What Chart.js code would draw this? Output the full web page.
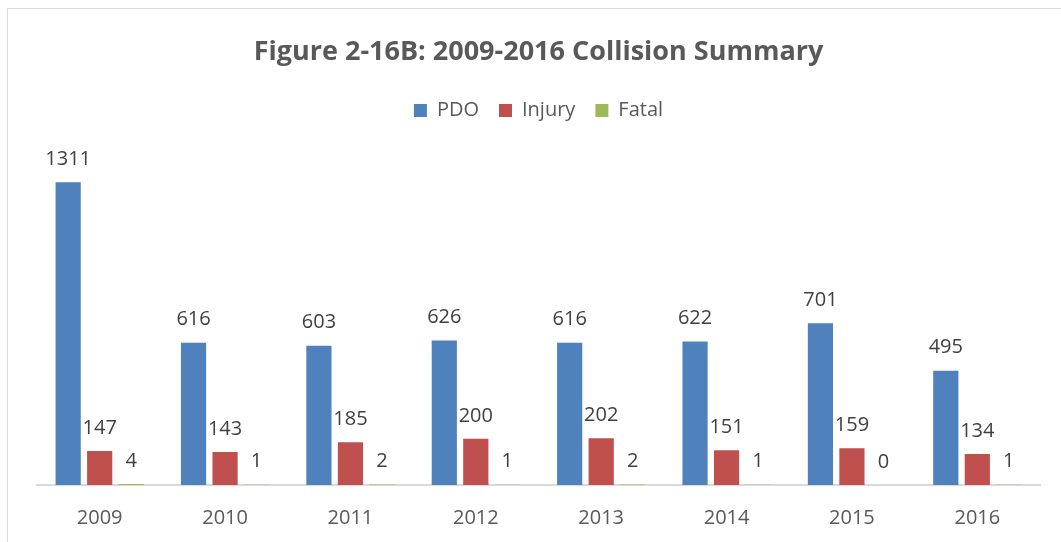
<!DOCTYPE html>
<html>
<head>
<meta charset="utf-8">
<script src="https://cdn.jsdelivr.net/npm/chart.js@4"></script>
<style>
    body { margin: 0; background: #fff; overflow: hidden; }
    #frame {
        position: absolute; left: 7px; top: 8px;
        width: 1100px; height: 600px;
        border: 1px solid #d9d9d9;
    }
    #wrap { position: absolute; left: 0; top: 0; width: 1061px; height: 543px; }
</style>
</head>
<body>
<div id="frame"></div>
<div id="wrap"><canvas id="collisionChart"></canvas></div>
<script>
// Collision counts by year
const years = ['2009', '2010', '2011', '2012', '2013', '2014', '2015', '2016'];
const pdo = [1311, 616, 603, 626, 616, 622, 701, 495];
const injury = [147, 143, 185, 200, 202, 151, 159, 134];
const fatal = [4, 1, 2, 1, 2, 1, 0, 1];

const FONT = "'Open Sans', sans-serif";

// Value labels drawn above each bar
const barLabels = {
    id: 'barLabels',
    afterDatasetsDraw(chart) {
        const ctx = chart.ctx;
        ctx.save();
        ctx.font = '20px ' + FONT;
        ctx.fillStyle = '#404040';
        ctx.textAlign = 'center';
        ctx.textBaseline = 'middle';
        chart.data.datasets.forEach((ds, i) => {
            chart.getDatasetMeta(i).data.forEach((bar, j) => {
                ctx.fillText(String(ds.data[j]), bar.x, bar.y - 23);
            });
        });
        ctx.restore();
    }
};

const ctx = document.getElementById('collisionChart').getContext('2d');

new Chart(ctx, {
    type: 'bar',
    data: {
        labels: years,
        datasets: [
            { label: 'PDO', data: pdo, backgroundColor: '#4f81bd' },
            { label: 'Injury', data: injury, backgroundColor: '#c0504d' },
            { label: 'Fatal', data: fatal, backgroundColor: '#9bbb59' }
        ]
    },
    options: {
        responsive: true,
        maintainAspectRatio: false,
        animation: false,
        categoryPercentage: 0.754,
        barPercentage: 0.8,
        layout: {
            padding: { left: 37, right: 21, top: 0, bottom: 0 }
        },
        scales: {
            x: {
                grid: { display: false },
                border: { display: true, color: '#d9d9d9', width: 2 },
                ticks: {
                    font: { family: FONT, size: 20 },
                    color: '#595959',
                    padding: 13
                }
            },
            y: {
                display: false,
                min: 0,
                max: 1536
            }
        },
        plugins: {
            title: {
                display: true,
                text: 'Figure 2-16B: 2009-2016 Collision Summary',
                color: '#595959',
                font: { family: FONT, size: 27, weight: 'bold' },
                padding: { top: 36, bottom: 12 }
            },
            legend: {
                labels: {
                    boxWidth: 13,
                    boxHeight: 13,
                    color: '#595959',
                    font: { family: FONT, size: 20 },
                    padding: 20
                }
            },
            tooltip: { enabled: false }
        }
    },
    plugins: [barLabels]
});
</script>
</body>
</html>
